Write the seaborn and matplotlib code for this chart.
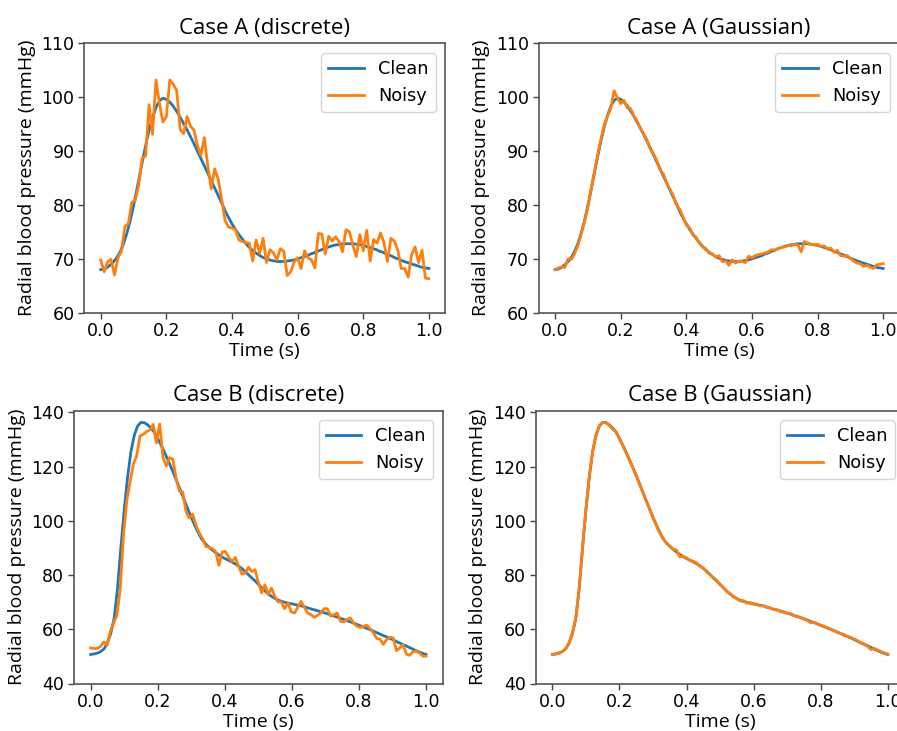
import numpy as np
import pandas as pd
import matplotlib
matplotlib.use("Agg")
import matplotlib.pyplot as plt
import seaborn as sns

clean_a = [68.0, 68.1, 68.4, 68.9, 69.5, 70.3, 71.4, 72.9, 74.8, 77.1,
           79.8, 82.8, 85.9, 89.0, 91.9, 94.5, 96.6, 98.3, 99.4, 99.8,
           99.6, 99.1, 98.4, 97.5, 96.5, 95.4, 94.3, 93.1, 91.9, 90.6,
           89.3, 88.0, 86.7, 85.4, 84.1, 82.8, 81.5, 80.2, 78.8, 77.6,
           76.5, 75.5, 74.6, 73.8, 73.0, 72.3, 71.7, 71.2, 70.8, 70.4,
           70.1, 69.9, 69.7, 69.6, 69.5, 69.5, 69.5, 69.6, 69.7, 69.8,
           70.0, 70.2, 70.4, 70.6, 70.9, 71.1, 71.4, 71.6, 71.9, 72.1,
           72.3, 72.5, 72.6, 72.7, 72.8, 72.8, 72.8, 72.8, 72.7, 72.6,
           72.5, 72.3, 72.1, 71.9, 71.7, 71.4, 71.2, 70.9, 70.7, 70.4,
           70.1, 69.9, 69.6, 69.4, 69.2, 69.0, 68.8, 68.6, 68.4, 68.3,
           68.2]

noisy_a_discrete = [69.8, 67.6, 69.4, 69.9, 67.0, 70.2, 71.4, 76.0, 76.5, 80.5, 80.8, 83.7,
                    88.7, 89.1, 98.6, 93.1, 103.2, 98.9, 95.4, 96.4, 103.2, 102.4, 101.2,
                    94.0, 93.2, 96.4, 94.6, 93.9, 91.0, 89.2, 92.5, 87.2, 83.0, 86.7, 84.8,
                    81.1, 77.1, 75.9, 75.7, 75.4, 73.5, 73.2, 73.0, 72.9, 69.6, 73.5, 71.1,
                    73.8, 69.3, 71.7, 71.1, 69.8, 71.9, 71.4, 66.9, 67.6, 69.4, 70.2, 68.2,
                    71.5, 70.2, 69.8, 68.3, 74.7, 74.6, 70.9, 74.2, 73.3, 74.1, 73.2, 71.3,
                    75.4, 75.0, 72.5, 70.4, 74.5, 71.5, 75.3, 69.6, 73.6, 72.9, 74.8, 73.0,
                    69.5, 73.8, 73.3, 71.6, 68.2, 68.2, 66.6, 70.8, 72.2, 69.3, 71.6, 66.4,
                    66.3]

noisy_a_gauss = [68.0, 68.3, 68.5, 68.4, 70.0, 69.9, 71.0, 72.5, 74.6, 76.9,
                 79.6, 82.9, 86.2, 89.3, 92.2, 94.9, 96.5, 98.0, 101.2, 99.9,
                 98.8, 99.4, 98.0, 97.9, 96.6, 95.6, 94.2, 93.2, 92.1, 90.4,
                 89.5, 88.3, 86.5, 85.8, 84.0, 82.9, 81.8, 80.0, 79.2, 77.8,
                 76.3, 75.8, 74.4, 74.0, 72.9, 72.2, 71.9, 71.0, 70.9, 70.3,
                 70.6, 69.5, 69.6, 68.8, 69.8, 69.2, 69.6, 69.5, 69.3, 70.5,
                 70.2, 70.6, 70.8, 70.9, 71.1, 71.3, 71.7, 71.6, 71.9, 72.1,
                 72.2, 72.5, 72.4, 72.7, 72.6, 71.3, 73.2, 72.9, 72.7, 72.6,
                 72.7, 72.3, 72.4, 71.8, 72.0, 71.2, 71.6, 70.6, 70.5, 70.6,
                 70.1, 69.6, 69.2, 69.1, 68.6, 68.8, 68.5, 68.2, 68.9, 69.0,
                 69.1]

clean_b = [50.7, 50.9, 51.2, 51.8, 52.8, 55.0, 58.5, 64.0, 75.0, 90.0,
           104.0, 116.0, 125.5, 131.5, 135.0, 136.3, 136.2, 135.4, 134.2, 132.7,
           130.4, 127.9, 125.3, 122.5, 119.7, 116.7, 113.6, 110.5, 107.4, 104.3,
           101.3, 98.4, 95.8, 93.5, 91.9, 90.6, 89.5, 88.5, 87.6, 86.8,
           86.1, 85.5, 84.9, 84.2, 83.4, 82.5, 81.4, 80.2, 79.0, 77.9,
           76.6, 75.3, 74.1, 73.0, 72.1, 71.3, 70.7, 70.3, 69.9, 69.6,
           69.4, 69.1, 68.8, 68.6, 68.2, 67.8, 67.4, 67.1, 66.7, 66.3,
           66.0, 65.6, 65.1, 64.7, 64.3, 63.8, 63.4, 62.9, 62.5, 62.0,
           61.5, 61.0, 60.5, 60.0, 59.5, 58.9, 58.4, 57.8, 57.3, 56.8,
           56.2, 55.6, 55.0, 54.5, 53.9, 53.3, 52.7, 52.1, 51.6, 51.1,
           50.7]

noisy_b_discrete = [53.1, 52.9, 52.9, 53.7, 55.3, 54.1, 59.3, 62.3, 65.2, 75.0, 95.0, 107.5,
                    114.5, 121.0, 124.0, 131.3, 131.9, 132.9, 133.5, 135.6, 128.8, 135.7,
                    123.3, 120.2, 123.3, 122.7, 115.5, 111.0, 110.6, 103.4, 101.0, 102.5,
                    98.5, 95.5, 93.6, 90.6, 90.2, 89.7, 88.7, 83.6, 88.5, 88.7, 86.5, 85.0,
                    86.5, 83.2, 80.4, 80.7, 82.9, 81.3, 82.0, 77.3, 73.4, 76.4, 72.8, 75.2,
                    72.1, 70.1, 70.1, 67.6, 69.7, 66.4, 66.0, 68.1, 70.3, 68.1, 66.0, 65.4,
                    64.4, 65.2, 66.0, 67.6, 67.6, 64.8, 65.4, 66.0, 62.9, 62.7, 63.6, 64.2,
                    62.3, 61.1, 60.7, 61.1, 61.5, 60.2, 58.7, 56.6, 56.4, 54.4, 56.2, 57.1,
                    56.8, 52.1, 53.1, 54.4, 50.9, 50.4, 51.7, 51.9, 51.3, 50.1, 50.1]

noisy_b_gauss = [50.7, 50.9, 51.3, 51.8, 52.9, 55.1, 58.6, 64.2, 75.2, 90.3,
                 104.2, 116.3, 125.6, 131.6, 135.1, 136.3, 136.2, 135.2, 133.8, 132.8,
                 130.2, 127.8, 125.0, 122.4, 119.5, 116.8, 113.4, 110.6, 107.2, 104.4,
                 101.1, 98.5, 95.6, 93.6, 91.7, 90.8, 89.6, 89.2, 86.7, 86.9,
                 86.3, 85.4, 85.1, 84.5, 83.2, 82.6, 81.2, 80.1, 78.8, 77.9,
                 76.4, 75.4, 73.9, 73.1, 71.9, 71.4, 70.4, 70.6, 69.6, 69.9,
                 69.2, 69.3, 68.6, 68.7, 68.0, 67.9, 67.3, 67.2, 66.6, 66.4,
                 65.9, 65.7, 65.0, 64.8, 64.2, 63.9, 63.2, 62.4, 62.6, 62.0,
                 61.4, 61.1, 60.4, 60.0, 59.4, 59.0, 58.4, 58.0, 57.4, 57.0,
                 56.4, 55.8, 55.0, 54.4, 53.7, 52.5, 53.0, 52.3, 51.8, 51.2,
                 50.9]

titles = ["Case A (discrete)", "Case A (Gaussian)", "Case B (discrete)", "Case B (Gaussian)"]
xlabel = "Time (s)"
ylabel = "Radial blood pressure (mmHg)"
legend_labels = ["Clean", "Noisy"]
xticks = [0.0, 0.2, 0.4, 0.6, 0.8, 1.0]
xtick_labels = ["0.0", "0.2", "0.4", "0.6", "0.8", "1.0"]
yticks_a = [60, 70, 80, 90, 100, 110]
yticks_b = [40, 60, 80, 100, 120, 140]

# ---------------- figure ----------------
plt.rcParams["font.family"] = ["DejaVu Sans"]
W, H = 897, 731
fig = plt.figure(figsize=(W / 100, H / 100), dpi=100)


def px_axes(x0, x1, y0, y1):
    return fig.add_axes([x0 / W, 1 - y1 / H, (x1 - x0) / W, (y1 - y0) / H])


ax_tl = px_axes(84.3, 445.3, 43.3, 312.7)
ax_tr = px_axes(538.6, 899.6, 43.3, 312.7)
ax_bl = px_axes(73.9, 442.8, 410.5, 683.5)
ax_br = px_axes(535.6, 904.5, 410.5, 683.5)

panels = [
    (ax_tl, clean_a, noisy_a_discrete, (60, 110), yticks_a),
    (ax_tr, clean_a, noisy_a_gauss, (60, 110), yticks_a),
    (ax_bl, clean_b, noisy_b_discrete, (40, 140.7), yticks_b),
    (ax_br, clean_b, noisy_b_gauss, (40, 140.7), yticks_b),
]

blue = "#1f77b4"
orange = "#ff7f0e"

for (ax, cv, nv, ylim, yticks), title in zip(panels, titles):
    clean_df = pd.DataFrame({"t": np.linspace(0, 1, len(cv)), "v": cv})
    noisy_df = pd.DataFrame({"t": np.linspace(0, 1, len(nv)), "v": nv})
    sns.lineplot(data=clean_df, x="t", y="v", ax=ax, color=blue, lw=2.0,
                 label=legend_labels[0], sort=False)
    sns.lineplot(data=noisy_df, x="t", y="v", ax=ax, color=orange, lw=2.0,
                 label=legend_labels[1], sort=False)
    ax.set_xlim(-0.05, 1.05)
    ax.set_ylim(*ylim)
    ax.set_xticks(xticks)
    ax.set_xticklabels(xtick_labels)
    ax.set_yticks(yticks)
    ax.tick_params(labelsize=12.5, length=4, width=1.0, color="#444444", pad=3)
    for s in ax.spines.values():
        s.set_color("#555555")
        s.set_linewidth(1.2)
    ax.set_title(title, family="Open Sans", fontsize=16, pad=7)
    ax.set_xlabel(xlabel, family="Open Sans", fontsize=14, labelpad=1)
    ax.set_ylabel(ylabel, family="Open Sans", fontsize=14, labelpad=4)
    leg = ax.legend(loc="upper right", fontsize=12.8, handlelength=2.0,
                    borderaxespad=0.55, framealpha=0.8)
    leg.get_frame().set_edgecolor("#cccccc")

fig.savefig("out.png", dpi=100)
